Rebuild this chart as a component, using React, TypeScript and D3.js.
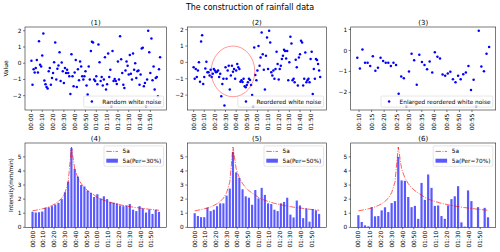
import React from "react";
import * as d3 from "d3";

const FONT = "'DejaVu Sans', sans-serif";
const FS = 5.8;

// white noise sampled every minute, 00:00 - 01:59
const randomNoise = [
  0.16, -1.32, -0.37, -0.57, -0.3, 0.2, -0.57, 1.36, -0.1, -0.2,
  0.47, 1.83, -1.07, -1.3, -1.46, -1.56, -0.5, -0.3, -1.32, -0.91,
  -0.61, 0.06, 1.28, -1.0, -0.34, -0.14, 0.67, -1.1, 0.04, -0.5,
  -1.22, -0.3, -0.6, -0.4, -0.6, -0.8, -1.89, 0.55, -0.8, -1.42,
  -0.57, 0.2, -1.46, -0.37, -1.05, 0.1, -0.2, -0.8, -1.0, -0.8,
  -0.5, -1.38, -1.93, -0.2, -1.0, 0.75, 1.32, 1.28, -1.0, -1.1,
  -0.8, -1.3, 1.15, 0.06, -1.1, -0.85, -1.38, -1.0, 0.37, -1.62,
  -1.3, 0.6, -0.85, -0.4, -2.65, 0.75, -1.1, -0.97, -1.1, -1.28,
  0.1, -1.0, 1.66, 0.24, -0.6, -1.32, -1.52, -0.45, 0.1, -0.16,
  -0.7, 0.5, -0.65, -1.0, 0.6, -0.4, 0.0, -0.91, -0.5, -0.45,
  -1.32, -0.7, 0.91, 0.95, -1.42, -1.22, -2.65, -1.0, 2.0, 0.67,
  -0.6, 1.52, -1.05, -0.2, -1.62, -0.91, -0.85, -2.03, -0.37, 0.37,
];

const reorderedNoise = [
  -0.3, -1.0, -0.4, -0.9, -0.5, 0.0, -1.18, 1.28, 1.66, -1.32,
  -0.9, -0.37, 0.04, -0.6, -0.6, -0.8, -0.45, -0.9, -0.7, -0.4,
  -0.5, -0.6, -0.57, -0.5, -0.9, -0.7, -2.07, -1.32, -1.0, -2.64,
  -0.3, -1.0, -0.5, -0.2, -1.66, -0.8, -0.2, -0.57, -0.4, -1.0,
  -0.5, -0.1, -0.3, -0.4, -1.18, -1.1, -1.2, -1.0, -1.46, -1.52,
  -1.38, -1.22, -1.0, -1.07, -1.38, -2.0, -2.68, 0.91, -0.77, -1.1,
  -0.5, 1.0, -0.2, 0.3, 1.83, 0.5, -0.45, -1.66, 0.4, 1.52,
  -0.4, 1.93, 1.22, -0.6, -0.8, -0.5, -1.0, -0.4, 0.65, -0.1,
  -1.05, -0.4, -0.2, 0.2, 0.4, 0.77, 0.7, 0.24, 0.7, -1.1,
  0.0, 1.56, 1.16, -1.1, -1.0, -1.22, 0.16, -0.3, -1.42, 0.3,
  0.5, 1.32, 1.22, -1.42, -1.0, 0.6, -1.22, -1.1, -1.0, -1.22,
  0.2, 0.65, -1.93, -0.4, -1.0, 0.2, 0.14, -0.1, -0.5, -0.9,
];

// circled part of the reordered noise (minute, value and radii)
const circleCenter = { t: 37, v: -0.55 };
const circleRadius = { t: 20.5, v: 1.55 };

const enlargedNoise = [
  -0.35, -0.86, 0.05, -0.58, -0.58, -0.74, -0.27, -0.97, -0.82, -0.35,
  -0.5, -0.58, -0.58, -0.74, -0.58, -0.69, -2.06, -1.24, -1.32, -2.66,
  -1.0, -0.16, -0.47, -1.63, -0.2, -0.55, -0.69, -0.9, -0.53, -1.05,
  -0.08, -0.3, -0.38, -1.15, -1.2, -1.1, -1.02, -1.37, -1.52, -1.2,
  -1.37, -1.13, -1.05, -0.74, -1.88, -1.4, -2.66, 0.94, -0.77, -0.99,
  -0.16, 0.16,
];
const enlargedStart = 9.3;
const enlargedStep = 1.03;

// 3-minute rainfall intensity (mm/min)
const design5a = [
  1.17, 1.21, 1.26, 1.31, 1.37, 1.45, 1.55, 1.67, 1.84, 2.07,
  2.45, 3.2, 5.7, 4.15, 3.5, 3.1, 2.82, 2.6, 2.43, 2.29,
  2.12, 2.0, 1.92, 1.84, 1.77, 1.7, 1.65, 1.6, 1.55, 1.51,
  1.47, 1.43, 1.4, 1.37, 1.34, 1.31, 1.28, 1.26, 1.23, 1.21,
];
const per30 = [
  1.1, 1.05, 1.07, 1.12, 1.38, 1.42, 1.5, 1.62, 1.74, 2.0,
  2.48, 3.24, 5.62, 4.15, 3.6, 3.0, 2.9, 2.6, 2.45, 2.15,
  2.35, 2.05, 2.2, 2.0, 1.8, 1.75, 1.7, 1.55, 1.5, 1.55,
  1.65, 1.25, 1.15, 1.5, 1.35, 1.05, 1.25, 0.95, 1.25, 1.1,
];
const per50 = [
  1.0, 0.8, 0.72, 0.72, 1.4, 1.15, 1.25, 1.5, 1.7, 1.7,
  2.25, 2.75, 5.35, 3.9, 3.5, 2.7, 2.2, 2.1, 1.6, 2.65,
  2.05, 2.8, 2.3, 1.7, 1.65, 1.25, 1.15, 1.7, 1.8, 2.1,
  0.9, 0.7, 1.9, 1.55, 0.65, 1.35, 0.4, 1.3, 1.2, 0.95,
];
const per70 = [
  0.86, 0.38, 0.14, 0.07, 1.43, 0.78, 0.8, 1.2, 1.42, 1.08,
  1.72, 1.86, 5.0, 3.33, 3.3, 2.15, 1.43, 1.52, 0.6, 3.15,
  1.95, 3.75, 2.8, 1.52, 1.55, 0.8, 0.6, 1.55, 2.0, 2.2,
  2.92, 0.35, 0.05, 2.62, 1.86, 0, 1.43, 0, 1.38, 0.71,
];
const barMinutes = d3.range(0, 120, 3);
const barWidth = 2;

const noiseMinutes = d3.range(0, 120);
const fullTicks = d3.range(0, 120, 10);
const enlargedTicks = d3.range(10, 60, 5);

const topRow = { top: 27, bottom: 110 };
const bottomRow = { top: 143, bottom: 227.3 };
const columns = [
  { left: 25, right: 166.5 },
  { left: 187.3, right: 326.5 },
  { left: 350.7, right: 495.7 },
];

type Frame = { left: number; right: number; top: number; bottom: number };

let measureCtx: CanvasRenderingContext2D | null = null;
function textWidth(text: string, size = FS) {
  if (!measureCtx) measureCtx = document.createElement("canvas").getContext("2d");
  if (!measureCtx) return text.length * size * 0.6;
  measureCtx.font = `${size}px 'DejaVu Sans'`;
  return measureCtx.measureText(text).width;
}

const two = d3.format("02d");
const clock = (m: number) => two(Math.floor(m / 60)) + ":" + two(m % 60);
const yFmt = d3.format("d");

function padded(lo: number, hi: number) {
  const p = (hi - lo) * 0.05;
  return [lo - p, hi + p];
}

function Axes({ frame, x, y, xTicks, yTicks, title, ylabel, ylabelX, children }: any) {
  return (
    <g>
      {children}
      {xTicks.map((t: number) => (
        <g key={"x" + t}>
          <line x1={x(t)} x2={x(t)} y1={frame.bottom} y2={frame.bottom + 2} stroke="#000" strokeWidth={0.5} />
          <text
            transform={`translate(${x(t)},${frame.bottom + 3.6}) rotate(-90)`}
            textAnchor="end"
            dy="0.35em"
            fontSize={FS}
          >
            {clock(t)}
          </text>
        </g>
      ))}
      {yTicks.map((t: number) => (
        <g key={"y" + t}>
          <line x1={frame.left - 2} x2={frame.left} y1={y(t)} y2={y(t)} stroke="#000" strokeWidth={0.5} />
          <text x={frame.left - 3.6} y={y(t)} dy="0.35em" textAnchor="end" fontSize={FS}>
            {yFmt(t)}
          </text>
        </g>
      ))}
      <rect
        x={frame.left}
        y={frame.top}
        width={frame.right - frame.left}
        height={frame.bottom - frame.top}
        fill="none"
        stroke="#222"
        strokeWidth={0.6}
      />
      <text x={(frame.left + frame.right) / 2} y={frame.top - 2.2} textAnchor="middle" fontSize={7}>
        {title}
      </text>
      {ylabel && (
        <text
          transform={`translate(${ylabelX},${(frame.top + frame.bottom) / 2}) rotate(-90)`}
          textAnchor="middle"
          dy="0.35em"
          fontSize={FS}
        >
          {ylabel}
        </text>
      )}
    </g>
  );
}

function Legend({ frame, loc, items }: { frame: Frame; loc: string; items: { label: string; kind: string }[] }) {
  const pad = 0.4 * FS;
  const handle = 2 * FS;
  const gap = 0.8 * FS;
  const spacing = 0.5 * FS;
  const rowH = 6.4;
  const textW = d3.max(items, (d) => textWidth(d.label)) || 0;
  const w = 2 * pad + handle + gap + textW;
  const h = 2 * pad + items.length * rowH + (items.length - 1) * spacing;
  const bx = frame.right - 0.5 * FS - w;
  const by = loc === "upper right" ? frame.top + 0.5 * FS : frame.bottom - 0.5 * FS - h;
  return (
    <g>
      <rect x={bx} y={by} width={w} height={h} rx={1.2} fill="#fff" fillOpacity={0.8} stroke="#ccc" strokeWidth={0.5} />
      {items.map((d, i) => {
        const cy = by + pad + i * (rowH + spacing) + rowH / 2;
        const hx = bx + pad;
        return (
          <g key={d.label}>
            {d.kind === "dot" && <circle cx={hx + handle / 2} cy={cy} r={1.25} fill="blue" />}
            {d.kind === "dashdot" && (
              <line x1={hx} x2={hx + handle} y1={cy} y2={cy} stroke="red" strokeOpacity={0.7} strokeWidth={0.9} strokeDasharray="5.5,1.4,1,1.4" />
            )}
            {d.kind === "patch" && <rect x={hx} y={cy - 2} width={handle} height={4} fill="blue" fillOpacity={0.65} />}
            <text x={hx + handle + gap} y={cy} dy="0.35em" fontSize={FS}>
              {d.label}
            </text>
          </g>
        );
      })}
    </g>
  );
}

function ScatterPanel({ frame, times, values, ticks, title, label, ylabel, circle }: any) {
  const [t0, t1] = d3.extent(times) as [number, number];
  const [v0, v1] = d3.extent(values) as [number, number];
  const x = d3.scaleLinear().domain(padded(t0, t1)).range([frame.left, frame.right]);
  const y = d3.scaleLinear().domain(padded(v0, v1)).range([frame.bottom, frame.top]);
  const yTicks = y.ticks(5).filter((t) => Number.isInteger(t));
  return (
    <Axes frame={frame} x={x} y={y} xTicks={ticks} yTicks={yTicks} title={title} ylabel={ylabel} ylabelX={6}>
      {values.map((v: number, i: number) => (
        <circle key={i} cx={x(times[i])} cy={y(v)} r={1.25} fill="blue" />
      ))}
      {circle && (
        <ellipse
          cx={x(circle.center.t)}
          cy={y(circle.center.v)}
          rx={x(circle.center.t + circle.radius.t) - x(circle.center.t)}
          ry={y(circle.center.v - circle.radius.v) - y(circle.center.v)}
          fill="none"
          stroke="red"
          strokeOpacity={0.5}
          strokeWidth={0.8}
        />
      )}
      <Legend frame={frame} loc="lower right" items={[{ label, kind: "dot" }]} />
    </Axes>
  );
}

function BarPanel({ frame, bars, title, label, ylabel }: any) {
  const x = d3
    .scaleLinear()
    .domain(padded(barMinutes[0] - barWidth / 2, barMinutes[barMinutes.length - 1] + barWidth / 2))
    .range([frame.left, frame.right]);
  const peak = Math.max(d3.max(design5a) as number, d3.max(bars) as number);
  const y = d3.scaleLinear().domain([0, peak * 1.05]).range([frame.bottom, frame.top]);
  const bw = x(barWidth) - x(0);
  const line = d3
    .line<number>()
    .x((_, i) => x(barMinutes[i]))
    .y((d) => y(d));
  return (
    <Axes frame={frame} x={x} y={y} xTicks={fullTicks} yTicks={d3.range(0, 6)} title={title} ylabel={ylabel} ylabelX={10.5}>
      {bars.map((v: number, i: number) => (
        <rect key={i} x={x(barMinutes[i]) - bw / 2} y={y(v)} width={bw} height={y(0) - y(v)} fill="blue" fillOpacity={0.65} />
      ))}
      <path d={line(design5a) || ""} fill="none" stroke="red" strokeOpacity={0.7} strokeWidth={0.9} strokeDasharray="5.5,1.4,1,1.4" />
      <Legend
        frame={frame}
        loc="upper right"
        items={[
          { label: "5a", kind: "dashdot" },
          { label, kind: "patch" },
        ]}
      />
    </Axes>
  );
}

export default function App() {
  const enlargedTimes = enlargedNoise.map((_, i) => enlargedStart + i * enlargedStep);
  const f = (c: number, row: { top: number; bottom: number }) => ({ ...columns[c], ...row });
  return (
    <svg
      width={500}
      height={252}
      style={{ position: "absolute", left: 0, top: 0, background: "#fff" }}
      fontFamily={FONT}
    >
      <text x={250} y={10.2} textAnchor="middle" fontSize={8}>
        The construction of rainfall data
      </text>
      <ScatterPanel frame={f(0, topRow)} times={noiseMinutes} values={randomNoise} ticks={fullTicks} title="(1)" label="Random white noise" ylabel="Value" />
      <ScatterPanel
        frame={f(1, topRow)}
        times={noiseMinutes}
        values={reorderedNoise}
        ticks={fullTicks}
        title="(2)"
        label="Reordered white noise"
        circle={{ center: circleCenter, radius: circleRadius }}
      />
      <ScatterPanel frame={f(2, topRow)} times={enlargedTimes} values={enlargedNoise} ticks={enlargedTicks} title="(3)" label="Enlarged reordered white noise" />
      <BarPanel frame={f(0, bottomRow)} bars={per30} title="(4)" label="5a(Per=30%)" ylabel="Intensity(mm/min)" />
      <BarPanel frame={f(1, bottomRow)} bars={per50} title="(5)" label="5a(Per=50%)" />
      <BarPanel frame={f(2, bottomRow)} bars={per70} title="(6)" label="5a(Per=70%)" />
    </svg>
  );
}
